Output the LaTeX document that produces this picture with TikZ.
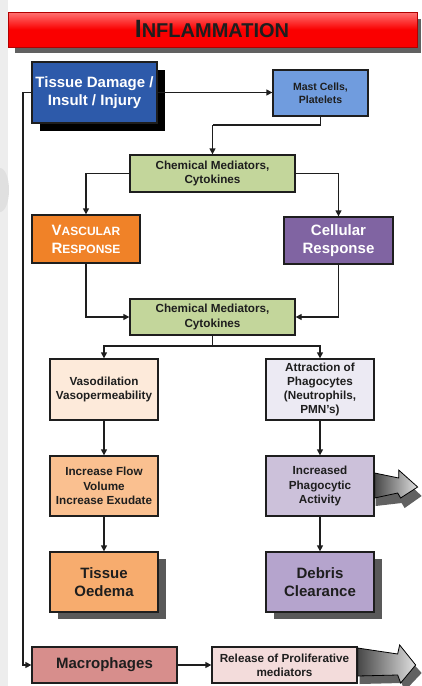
\documentclass[tikz,border=0pt]{standalone}
\usepackage{fontspec}
\setmainfont{Liberation Sans}
\usetikzlibrary{arrows.meta,shadows,calc}

\definecolor{ink}{RGB}{30,30,30}
\definecolor{tissueblue}{RGB}{45,90,170}
\definecolor{mastblue}{RGB}{112,156,222}
\definecolor{chemgreen}{RGB}{195,214,155}
\definecolor{vascorange}{RGB}{240,130,40}
\definecolor{cellpurple}{RGB}{128,100,162}
\definecolor{vasopeach}{RGB}{253,234,218}
\definecolor{attrlav}{RGB}{236,234,243}
\definecolor{floworange}{RGB}{250,192,144}
\definecolor{phagopurple}{RGB}{204,193,218}
\definecolor{oedemaorange}{RGB}{247,172,110}
\definecolor{debrispurple}{RGB}{181,164,205}
\definecolor{macrorose}{RGB}{215,142,140}
\definecolor{releasepink}{RGB}{243,220,219}
\definecolor{titlered}{RGB}{250,0,0}

\newcommand{\smallfont}{\fontsize{11.7}{14.3}\selectfont\bfseries}
\newcommand{\largefont}{\fontsize{15}{18.5}\selectfont\bfseries}

\tikzset{
  box/.style={draw=ink, line width=1.3pt, align=center, inner sep=0pt, text=ink},
  smallbox/.style={box, font=\smallfont},
  largebox/.style={box, font=\largefont},
  darkshadow/.style={drop shadow={shadow xshift=8pt, shadow yshift=-8pt, fill=black, opacity=1}},
  grayshadow/.style={drop shadow={shadow xshift=8pt, shadow yshift=-7pt, fill=black!65, opacity=1}},
  arr/.style={draw=ink, line width=1.3pt, -{Triangle[length=6pt,width=6pt]}},
  link/.style={draw=ink, line width=1.3pt},
  bigarrow/.style={draw=black, line width=0.8pt, left color=black!72, right color=black!12},
  bigshadow/.style={fill=black!62, draw=none},
}

\begin{document}
\begin{tikzpicture}[x=1pt,y=-1pt]
\useasboundingbox (0,0) rectangle (421,686);
\fill[white] (0,0) rectangle (421,686);
% faint strip down the left edge
\fill[black!7] (0,0) rectangle (8,686);
\fill[black!12] (0,212) arc[start angle=90, end angle=-90, x radius=9, y radius=22] -- cycle;

% title banner
\fill[black!62] (15,19) rectangle (421,53);
\shade[top color=red!55!white, bottom color=titlered, middle color=titlered, draw=red!70!black, line width=0.5pt]
  (8,12) rectangle (417,47);
\node[text=ink, font=\bfseries] (title) at (212,29)
  {{\fontsize{25}{25}\selectfont I}{\fontsize{20}{20}\selectfont NFLAMMATION}};

% boxes
\node[largebox, fill=tissueblue, text=white, darkshadow, minimum width=125pt, minimum height=61pt]
  (tissue) at (94.5,92.5) {Tissue Damage /\\Insult / Injury};
\node[box, font=\fontsize{10.5}{13.5}\selectfont\bfseries, fill=mastblue, minimum width=95pt, minimum height=46pt]
  (mast) at (320.5,93) {Mast Cells,\\Platelets};
\node[smallbox, fill=chemgreen, minimum width=165pt, minimum height=37pt]
  (chem1) at (212.5,173.5) {Chemical Mediators,\\Cytokines};
\node[box, fill=vascorange, text=white, font=\fontsize{12}{18}\selectfont\bfseries, minimum width=108pt, minimum height=48pt]
  (vasc) at (86,239) {{\fontsize{15}{18}\selectfont V}ASCULAR\\{\fontsize{15}{18}\selectfont R}ESPONSE};
\node[largebox, fill=cellpurple, text=white, minimum width=109pt, minimum height=47pt]
  (cell) at (338.5,240.5) {Cellular\\Response};
\node[smallbox, fill=chemgreen, minimum width=165pt, minimum height=36pt]
  (chem2) at (212.5,317) {Chemical Mediators,\\Cytokines};
\node[smallbox, fill=vasopeach, minimum width=108pt, minimum height=61pt]
  (vaso) at (104,389.5) {Vasodilation\\Vasopermeability};
\node[smallbox, fill=attrlav, minimum width=108pt, minimum height=61pt]
  (attr) at (320,389.5) {Attraction of\\Phagocytes\\(Neutrophils,\\PMN’s)};
\node[smallbox, fill=floworange, minimum width=108pt, minimum height=60pt]
  (flow) at (104,486) {Increase Flow\\Volume\\Increase Exudate};
\node[smallbox, fill=phagopurple, minimum width=108pt, minimum height=60pt]
  (phago) at (320,486) {Increased\\Phagocytic\\Activity};
\node[largebox, fill=oedemaorange, grayshadow, minimum width=108pt, minimum height=60pt]
  (oedema) at (104,582) {Tissue\\Oedema};
\node[largebox, fill=debrispurple, grayshadow, minimum width=108pt, minimum height=60pt]
  (debris) at (320,582) {Debris\\Clearance};
\node[largebox, fill=macrorose, minimum width=145pt, minimum height=36pt]
  (macro) at (104.5,665) {Macrophages};
\node[smallbox, fill=releasepink, minimum width=145pt, minimum height=36pt]
  (release) at (284.5,665) {Release of Proliferative\\mediators};

% junction points
\coordinate (j1) at (212.5,125);
\coordinate (j2) at (212.5,346);
\coordinate (j3) at (23,400);

% connectors
\draw[arr] (tissue.east) -- (tissue.east -| mast.west);
\draw[link] (mast.south) |- (j1);
\draw[arr] (j1) -- (chem1.north);
\draw[arr] (chem1.west) -| (vasc.north);
\draw[arr] (chem1.east) -| (cell.north);
\draw[arr] (vasc.south) |- (chem2.west);
\draw[arr] (cell.south) |- (chem2.east);
\draw[link] (chem2.south) -- (j2);
\draw[arr] (j2) -| (vaso.north);
\draw[arr] (j2) -| (attr.north);
\draw[arr] (vaso) -- (flow);
\draw[arr] (flow) -- (oedema);
\draw[arr] (attr) -- (phago);
\draw[arr] (phago) -- (debris);
\draw[link] (tissue.west) -| (j3);
\draw[arr] (j3) |- (macro.west);
\draw[arr] (macro) -- (release);

% large block arrows leaving the right-hand column, each with a dark shadow copy
\begin{scope}[shift={(phago.east)}]
  \fill[bigshadow] (1,-4) -- (28,0) -- (28,-8) -- (47,10) -- (30,22) -- (27,17) -- (1,20) -- cycle;
  \path[bigarrow] (0,-13) -- (24,-8) -- (24,-16) -- (43,1) -- (26,12) -- (23,7) -- (0,12) -- cycle;
\end{scope}
\begin{scope}[shift={(release.east)}]
  \fill[bigshadow] (2,-9) -- (44,-3) -- (46,-12) -- (64,8) -- (47,26) -- (44,18) -- (2,19) -- cycle;
  \path[bigarrow] (0,-17) -- (40,-11) -- (42,-20) -- (58,0) -- (43,18) -- (40,10) -- (0,11) -- cycle;
\end{scope}
\end{tikzpicture}
\end{document}
